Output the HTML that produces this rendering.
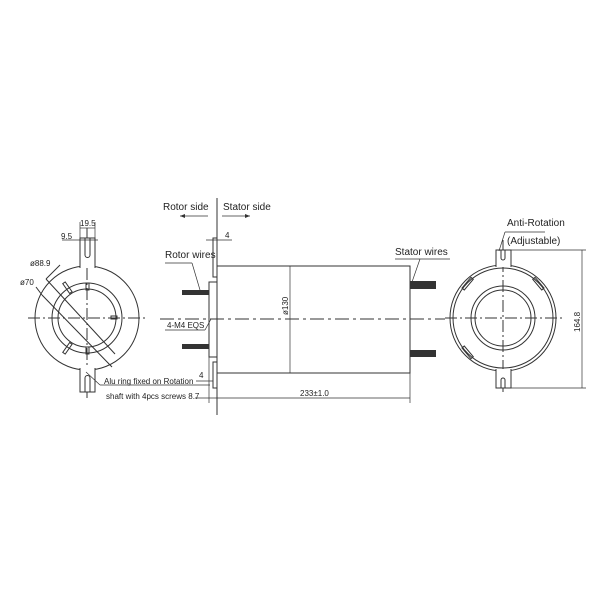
<!DOCTYPE html>
<html><head><meta charset="utf-8"><style>
html,body{margin:0;padding:0;background:#fff}
svg{display:block}
text{font-family:"Liberation Sans",sans-serif;fill:#222}
</style></head><body>
<svg width="600" height="600" viewBox="0 0 600 600" xmlns="http://www.w3.org/2000/svg">
<g fill="none" stroke="#333" stroke-width="1">
<circle cx="87" cy="318" r="52"/>
<circle cx="87" cy="318" r="35"/>
<circle cx="87" cy="318" r="29"/>
<line x1="28" y1="318" x2="146" y2="318" stroke-dasharray="12,3,2,3"/>
<line x1="87" y1="228" x2="87" y2="398" stroke-dasharray="12,3,2,3"/>
<path d="M80,268 V238 H95 V268" fill="#fff"/>
<path d="M85,238 V255 a2.5,2.5 0 0 0 5,0 V238"/>
<path d="M80,368 V392 H95 V368" fill="#fff"/>
<path d="M85,392 V378 a2.5,2.5 0 0 1 5,0 V392"/>
<rect x="66" y="282" width="3" height="12" transform="rotate(-35 67 288)"/>
<rect x="66" y="342" width="3" height="12" transform="rotate(35 67 348)"/>
<rect x="86" y="283" width="3" height="7"/>
<rect x="86" y="347" width="3" height="7"/>
<rect x="111" y="316" width="6" height="3"/>
<line x1="46" y1="279" x2="115" y2="354"/>
<line x1="42" y1="295" x2="112" y2="367"/>
<line x1="60" y1="265" x2="46" y2="279"/>
<line x1="36" y1="287" x2="42" y2="295"/>
<line x1="80" y1="222" x2="80" y2="238" stroke-width="0.7"/>
<line x1="95" y1="222" x2="95" y2="238" stroke-width="0.7"/>
<line x1="80" y1="228" x2="95" y2="228" stroke-width="0.7"/>
<line x1="62" y1="240" x2="98" y2="240" stroke-width="0.7"/>
<line x1="86" y1="372" x2="100" y2="385" stroke-width="0.7"/>
<line x1="100" y1="385" x2="210" y2="385" stroke-width="0.7"/>
<line x1="217" y1="198" x2="217" y2="415"/>
<rect x="217" y="266" width="193" height="107"/>
<rect x="213" y="238" width="4" height="39"/>
<rect x="213" y="362" width="4" height="26"/>
<rect x="209" y="282" width="8" height="75"/>
<line x1="160" y1="319" x2="445" y2="319" stroke-dasharray="14,4,3,4"/>
<line x1="290" y1="266" x2="290" y2="373" stroke-width="0.7"/>
<line x1="217" y1="398" x2="410" y2="398" stroke-width="0.7"/>
<line x1="410" y1="373" x2="410" y2="403" stroke-width="0.7"/>
<line x1="209" y1="357" x2="209" y2="403" stroke-width="0.7"/>
<line x1="195" y1="398" x2="217" y2="398" stroke-width="0.7"/>
<line x1="206" y1="240" x2="232" y2="240" stroke-width="0.7"/>
<line x1="196" y1="381" x2="213" y2="381" stroke-width="0.7"/>
<line x1="180" y1="216" x2="208" y2="216" stroke-width="0.7"/>
<path d="M180,216 l5,-2 v4 z" fill="#333" stroke="none"/>
<line x1="222" y1="216" x2="250" y2="216" stroke-width="0.7"/>
<path d="M250,216 l-5,-2 v4 z" fill="#333" stroke="none"/>
<line x1="165" y1="263" x2="192" y2="263" stroke-width="0.7"/>
<line x1="192" y1="263" x2="200" y2="290" stroke-width="0.7"/>
<line x1="165" y1="330" x2="205" y2="330" stroke-width="0.7"/>
<line x1="205" y1="330" x2="211" y2="319" stroke-width="0.7"/>
<line x1="395" y1="259" x2="450" y2="259" stroke-width="0.7"/>
<line x1="420" y1="259" x2="412" y2="282" stroke-width="0.7"/>
<circle cx="503" cy="318" r="53"/>
<circle cx="503" cy="318" r="50"/>
<circle cx="503" cy="318" r="32"/>
<circle cx="503" cy="318" r="28"/>
<line x1="445" y1="318" x2="565" y2="318" stroke-dasharray="12,3,2,3"/>
<line x1="503" y1="240" x2="503" y2="395" stroke-dasharray="12,3,2,3"/>
<path d="M496,267 V250 H511 V267" fill="#fff"/>
<path d="M501,250 V258 a2,2 0 0 0 4,0 V250"/>
<path d="M496,369 V388 H511 V369" fill="#fff"/>
<path d="M501,388 V380 a2,2 0 0 1 4,0 V388"/>
<rect x="466" y="277" width="3" height="14" transform="rotate(40 468 284)"/>
<rect x="537" y="277" width="3" height="14" transform="rotate(-40 538 284)"/>
<rect x="466" y="345" width="3" height="14" transform="rotate(-40 468 352)"/>
<line x1="511" y1="250" x2="586" y2="250" stroke-width="0.7"/>
<line x1="511" y1="388" x2="586" y2="388" stroke-width="0.7"/>
<line x1="582" y1="250" x2="582" y2="388" stroke-width="0.7"/>
<line x1="505" y1="232" x2="545" y2="232" stroke-width="0.7"/>
<line x1="505" y1="232" x2="499" y2="251" stroke-width="0.7"/>
</g>
<g fill="#333">
<rect x="182" y="290" width="27" height="5"/>
<rect x="182" y="344" width="27" height="5"/>
<rect x="410" y="281" width="26" height="8"/>
<rect x="410" y="350" width="26" height="7"/>
</g>
<g font-size="9">
<text x="163" y="210" font-size="10">Rotor side</text>
<text x="223" y="210" font-size="10">Stator side</text>
<text x="225" y="238" font-size="8">4</text>
<text x="165" y="258" font-size="10">Rotor wires</text>
<text x="395" y="255" font-size="10">Stator wires</text>
<text x="167" y="328" font-size="8">4-M4  EQS</text>
<text x="199" y="378" font-size="8">4</text>
<text x="104" y="384" font-size="8">Alu ring fixed on Rotation</text>
<text x="106" y="399" font-size="8">shaft with 4pcs screws 8.7</text>
<text x="300" y="396" font-size="8">233±1.0</text>
<text x="0" y="0" font-size="8" transform="translate(288,315) rotate(-90)">ø130</text>
<text x="80" y="226" font-size="8">19.5</text>
<text x="61" y="239" font-size="8">9.5</text>
<text x="30" y="266" font-size="8">ø88.9</text>
<text x="20" y="285" font-size="8">ø70</text>
<text x="507" y="226" font-size="10">Anti-Rotation</text>
<text x="507" y="244" font-size="10">(Adjustable)</text>
<text x="0" y="0" font-size="8" transform="translate(580,332) rotate(-90)">164.8</text>
</g>
</svg>
</body></html>
